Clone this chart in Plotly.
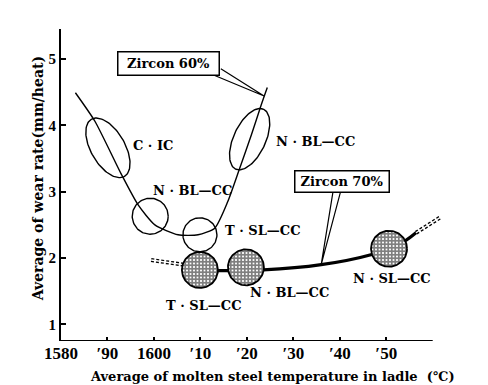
import numpy as np
import plotly.graph_objects as go

# ---------------- data ----------------
# Zircon 60% wear curve
z60_temp = [1583.1, 1587.3, 1593.0, 1596.6, 1600.2, 1605.2, 1609.5, 1613.1, 1615.9, 1618.5, 1621.0, 1623.1, 1624.4]
z60_wear = [4.49, 4.06, 3.26, 2.80, 2.50, 2.35, 2.35, 2.45, 2.85, 3.36, 3.86, 4.31, 4.57]

# Zircon 70% wear curve (solid part) and dashed extrapolations
z70_temp = [1606.3, 1609.9, 1613.8, 1623.5, 1636.0, 1646.7, 1650.6, 1654.3, 1656.4]
z70_wear = [1.90, 1.82, 1.81, 1.82, 1.90, 2.05, 2.15, 2.27, 2.38]
z70_left_temp = [1599.4, 1606.3]
z70_left_wear = [1.97, 1.90]
z70_right_temp = [1656.4, 1661.8]
z70_right_wear = [2.38, 2.62]

# Zircon 60% process groups (open ellipses)
g60_names = ["C · IC", "N · BL—CC", "T · SL—CC", "N · BL—CC"]
g60_temp = [1590.1, 1599.2, 1609.9, 1620.6]
g60_wear = [3.66, 2.63, 2.35, 3.79]

# Zircon 70% process groups (hatched circles)
g70_names = ["T · SL—CC", "N · BL—CC", "N · SL—CC"]
g70_temp = [1609.9, 1619.8, 1650.6]
g70_wear = [1.82, 1.86, 2.14]

# axis ticks
x_tickvals = [1580, 1590, 1600, 1610, 1620, 1630, 1640, 1650]
x_ticktext = ["1580", "′90", "1600", "′10", "′20", "′30", "′40", "′50"]
y_tickvals = [1, 2, 3, 4, 5]

# ---------------- layout constants ----------------
W, H = 488, 385
ML, MR, MT, MB = 53, 54, 21, 52
XR = [1580, 1662]
YR = [0.75, 5.45]
PXX = (W - ML - MR) / (XR[1] - XR[0])   # px per degree
PXY = (H - MT - MB) / (YR[1] - YR[0])   # px per wear unit

# ellipse sizes in px: (semi-major, semi-minor, angle deg)
g60_shape = [(33, 17, -60), (18, 18, 0), (17, 17, 0), (33, 16, 65)]
g70_radius = 18

# label positions (temp, wear)
g60_label_pos = [(1599.8, 3.70), (1608.4, 3.01), (1623.3, 2.42), (1634.7, 3.76)]
g70_label_pos = [(1610.6, 1.28), (1629.1, 1.48), (1651.2, 1.69)]

SERIF = "DejaVu Serif"


def ellipse(cx, cy, a, b, ang, n=120):
    t = np.linspace(0, 2 * np.pi, n)
    th = np.radians(ang)
    ux, uy = a * np.cos(t), b * np.sin(t)
    px = ux * np.cos(th) - uy * np.sin(th)
    py = ux * np.sin(th) + uy * np.cos(th)
    return cx + px / PXX, cy + py / PXY


fig = go.Figure()

# Zircon 70% dashed double-line extensions
for xs, ys in [(z70_left_temp, z70_left_wear), (z70_right_temp, z70_right_wear)]:
    fig.add_trace(go.Scatter(x=xs, y=ys, mode="lines",
                             line=dict(color="black", width=4, dash="3px,2px"),
                             hoverinfo="skip", showlegend=False))
    fig.add_trace(go.Scatter(x=xs, y=ys, mode="lines",
                             line=dict(color="white", width=1.3),
                             hoverinfo="skip", showlegend=False))

# Zircon 70% thick line
fig.add_trace(go.Scatter(x=z70_temp, y=z70_wear, mode="lines",
                         line=dict(color="black", width=3.2, shape="spline", smoothing=0.8),
                         hoverinfo="skip", showlegend=False))

# Zircon 60% line
fig.add_trace(go.Scatter(x=z60_temp, y=z60_wear, mode="lines",
                         line=dict(color="black", width=1.4, shape="spline", smoothing=0.6),
                         hoverinfo="skip", showlegend=False))

# open ellipses (Zircon 60%)
for cx, cy, (a, b, ang) in zip(g60_temp, g60_wear, g60_shape):
    ex, ey = ellipse(cx, cy, a, b, ang)
    fig.add_trace(go.Scatter(x=ex, y=ey, mode="lines",
                             line=dict(color="black", width=1.4),
                             hoverinfo="skip", showlegend=False))

# hatched circles (Zircon 70%)
for cx, cy in zip(g70_temp, g70_wear):
    ex, ey = ellipse(cx, cy, g70_radius, g70_radius, 0)
    fig.add_trace(go.Scatter(x=ex, y=ey, mode="lines", fill="toself",
                             fillcolor="white",
                             fillpattern=dict(shape="+", fgcolor="black", bgcolor="white",
                                              size=3.5, solidity=0.75),
                             line=dict(color="black", width=1.8),
                             hoverinfo="skip", showlegend=False))

annotations = []
for name, (lx, ly) in zip(g60_names + g70_names, g60_label_pos + g70_label_pos):
    annotations.append(dict(x=lx, y=ly, xref="x", yref="y", text=name, showarrow=False,
                            font=dict(family=SERIF, size=13, color="black", weight="bold")))

# callout boxes
annotations.append(dict(x=1603.1, y=4.93, xref="x", yref="y", text="Zircon 60%", showarrow=False,
                        font=dict(family=SERIF, size=13, color="black", weight="bold"),
                        bordercolor="black", borderwidth=1.5, borderpad=1, bgcolor="white",
                        width=98, height=20))
annotations.append(dict(x=1640.5, y=3.15, xref="x", yref="y", text="Zircon 70%", showarrow=False,
                        font=dict(family=SERIF, size=13, color="black", weight="bold"),
                        bordercolor="black", borderwidth=1.5, borderpad=1, bgcolor="white",
                        width=91, height=18))

# axis titles
annotations.append(dict(x=0.555, y=-0.145, xref="paper", yref="paper",
                        text="Average of molten steel temperature in ladle  (℃)", showarrow=False,
                        font=dict(family=SERIF, size=13, color="black", weight="bold")))
annotations.append(dict(x=-0.088, y=0.52, xref="paper", yref="paper", textangle=-90,
                        text="Average of wear rate(mm/heat)", showarrow=False,
                        font=dict(family=SERIF, size=14, color="black", weight="bold")))

shapes = [
    # x axis line
    dict(type="line", xref="x", yref="y", x0=1580, x1=1660, y0=YR[0], y1=YR[0],
         line=dict(color="black", width=2)),
    # callout wedges
    dict(type="path", xref="x", yref="y",
         path="M 1612.7 4.76 L 1623.7 4.44 L 1614.4 4.85",
         line=dict(color="black", width=1.2)),
    dict(type="path", xref="x", yref="y",
         path="M 1638.5 2.98 L 1636.0 1.90 L 1640.1 2.98",
         line=dict(color="black", width=1.2)),
]

fig.update_layout(
    width=W, height=H,
    margin=dict(l=ML, r=MR, t=MT, b=MB, pad=0),
    paper_bgcolor="white", plot_bgcolor="white",
    showlegend=False,
    annotations=annotations,
    shapes=shapes,
    xaxis=dict(range=XR, showgrid=False, zeroline=False, showline=False,
               tickmode="array", tickvals=x_tickvals, ticktext=x_ticktext,
               ticks="inside", ticklen=4, tickwidth=1.5, tickcolor="black",
               tickfont=dict(family="Liberation Serif", size=17, color="black", weight="bold")),
    yaxis=dict(range=YR, showgrid=False, zeroline=False, showline=True,
               linecolor="black", linewidth=2,
               tickmode="array", tickvals=y_tickvals,
               ticks="inside", ticklen=5, tickwidth=1.5, tickcolor="black",
               tickfont=dict(family="Liberation Serif", size=15, color="black", weight="bold")),
)

fig.write_html("out.html")
